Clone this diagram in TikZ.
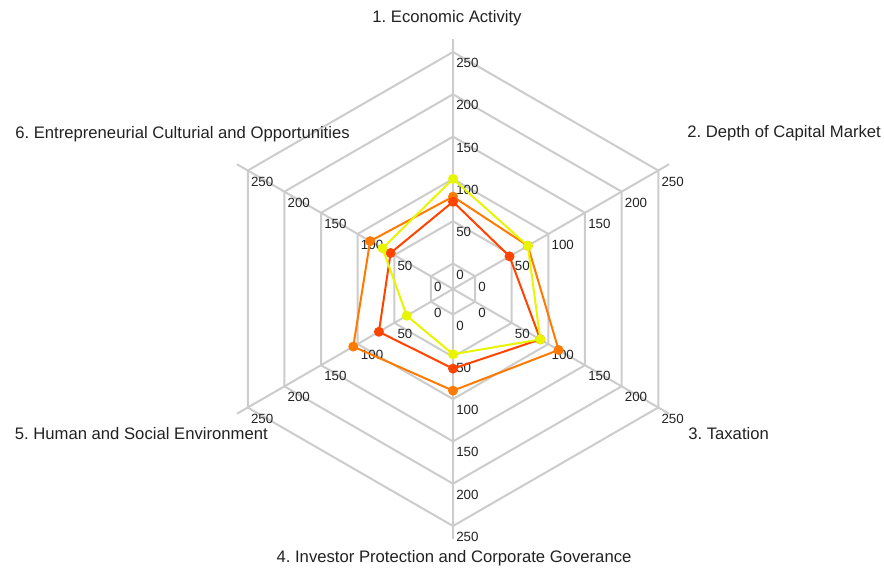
\documentclass[tikz,border=0pt]{standalone}
\usepackage{fontspec}
\setmainfont{Liberation Sans}
\usetikzlibrary{positioning}
\definecolor{gridgray}{HTML}{CCCCCC}
\definecolor{lineyellow}{HTML}{E8F500}
\definecolor{lineorange}{HTML}{FF7A00}
\definecolor{linered}{HTML}{FF4400}
\definecolor{textgray}{HTML}{222222}
\frenchspacing

\begin{document}
\begin{tikzpicture}[x=0.75pt, y=0.75pt,
    grid/.style={gridgray, line width=1.5pt, line join=round},
    tick/.style={font=\fontsize{10}{11}\selectfont, text=textgray, inner sep=0pt, anchor=north west},
    cat/.style={font=\fontsize{12.5}{14}\selectfont, text=textgray, inner sep=0pt},
    series/.style={line width=1.5pt, line join=round},
    dot/.style={circle, fill=#1, inner sep=0pt, minimum size=7.5pt}]
	\useasboundingbox (0,0) rectangle (884,567);
	
	\begin{scope}[shift={(453,278)}]
		\coordinate (c) at (0,0);
		% spokes
		\foreach \a in {90,30,-30,-90,210,150}{
			\draw [grid] (c)--(\a:249.5);
		}
		% rings
		\foreach \v in {0,50,...,250}{
			\pgfmathsetmacro\r{25.5+0.846*\v}
			\draw [grid] (90:\r)--(30:\r)--(-30:\r)--(-90:\r)--(210:\r)--(150:\r)--cycle;
		}
		% tick labels
		\foreach \v in {0,50,...,250}{
			\pgfmathsetmacro\r{25.5+0.846*\v}
			\foreach \a [count=\k] in {90,30,-30,-90,210,150}{
				\node [tick, xshift=2.25pt, yshift=-4.5pt] (tk\k-\v) at (\a:\r) {\v};
			}
		}
		
		% series: orange, red, yellow
		\foreach \s/\col/\vals in {or/lineorange/{79,72,114,90,106,83}, re/linered/{73,47,89,64,71,55}, ye/lineyellow/{100,72,89,47,33,66}}{
			\foreach \v [count=\k] in \vals{
				\pgfmathsetmacro\ang{150-60*\k}
				\pgfmathsetmacro\r{25.5+0.846*\v}
				\coordinate (\s\k) at (\ang:\r);
			}
			\draw [series, \col] (\s1)--(\s2)--(\s3)--(\s4)--(\s5)--(\s6)--cycle;
			\foreach \k in {1,...,6}{
				\node [dot=\col] (\s dot\k) at (\s\k) {};
			}
		}
	\end{scope}
	
	\node [cat] (cat1) at (447,549) {1. Economic Activity};
	\node [cat, anchor=west] (cat2) at (687,434) {2. Depth of Capital Market};
	\node [cat, anchor=west] (cat3) at (688,133) {3. Taxation};
	\node [cat] (cat4) at (454,9) {4. Investor Protection and Corporate Goverance};
	\node [cat, anchor=east] (cat5) at (268,133) {5. Human and Social Environment};
	\node [cat, anchor=east] (cat6) at (350,433) {6. Entrepreneurial Culturial and Opportunities};
\end{tikzpicture}
\end{document}
